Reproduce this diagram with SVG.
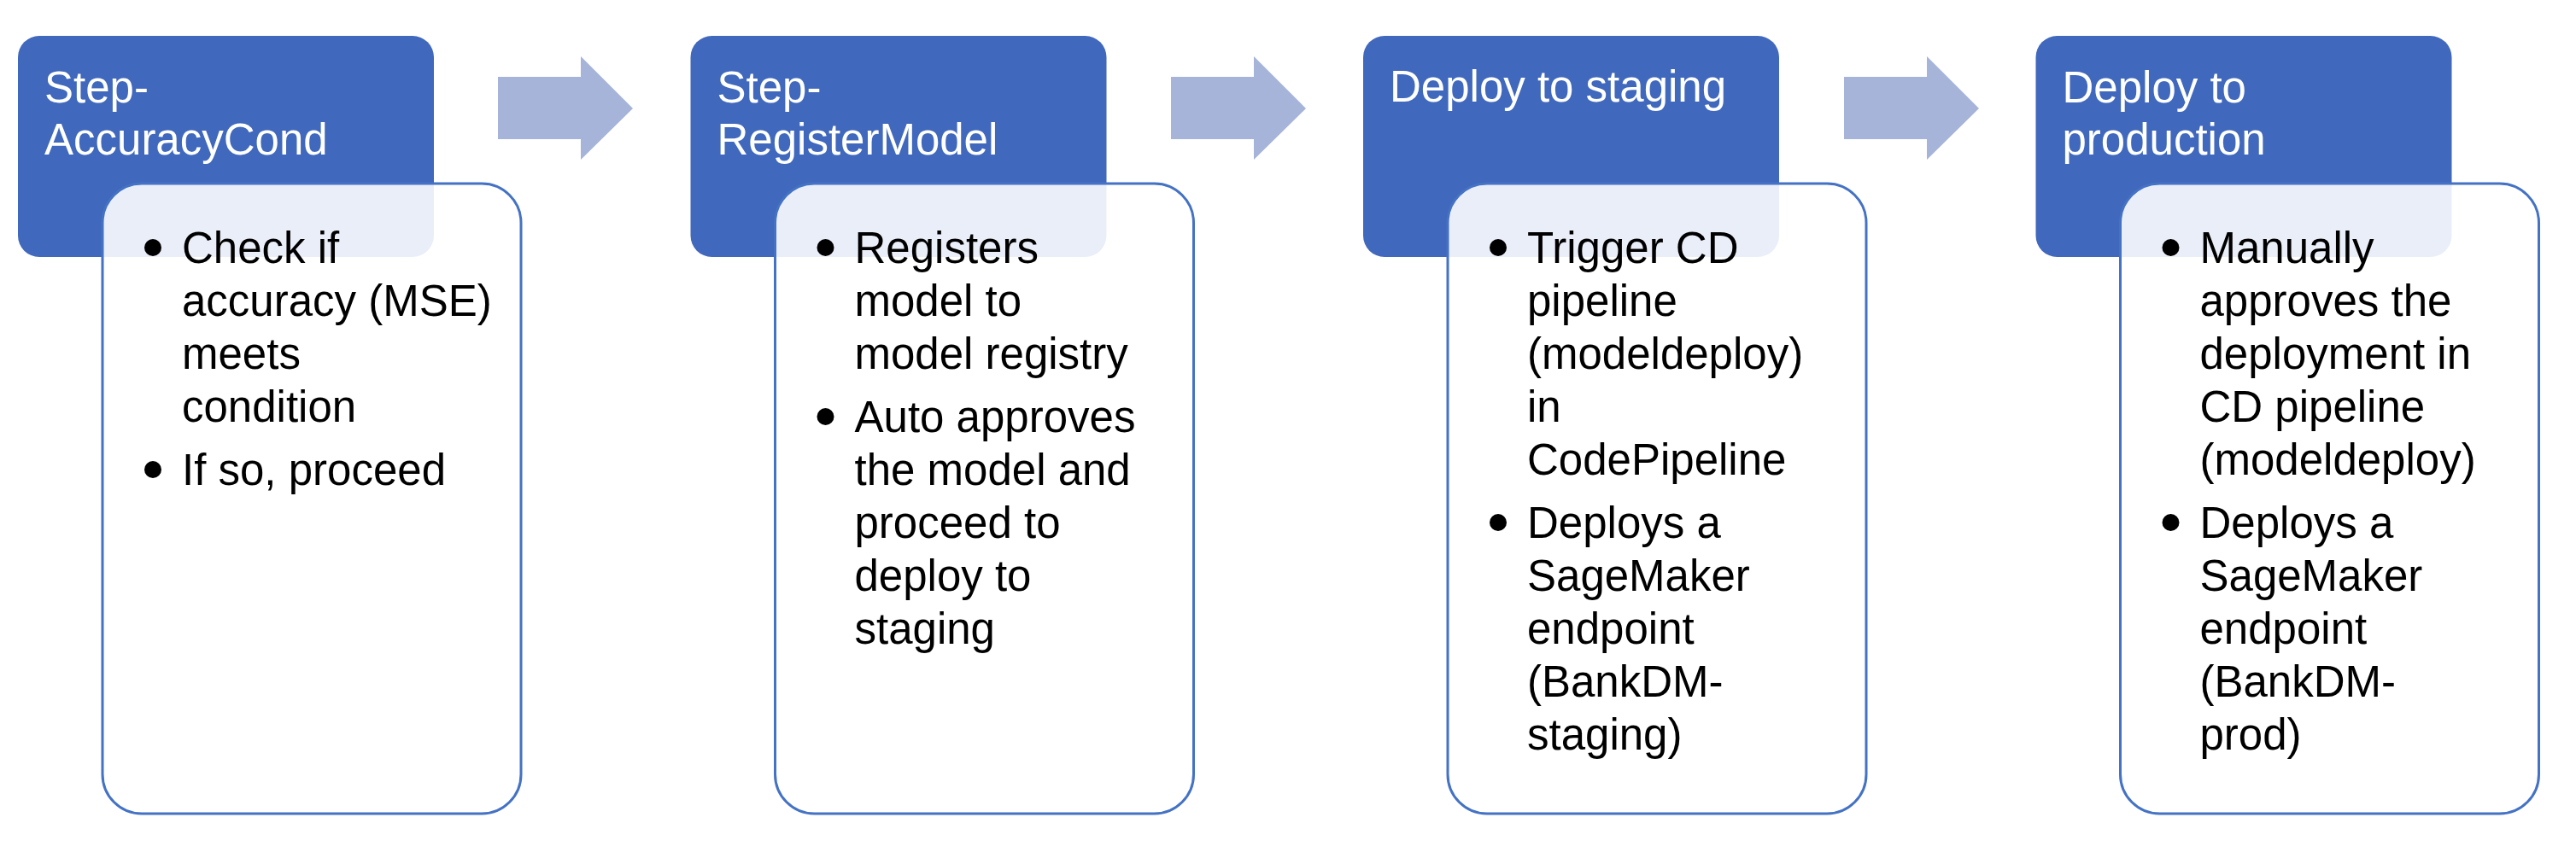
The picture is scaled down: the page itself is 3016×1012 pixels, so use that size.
<svg xmlns="http://www.w3.org/2000/svg" width="3016" height="1012" viewBox="0 0 3016 1012">
  <style>
    .hdr { fill: #4068BC; }
    .body { fill: #FFFFFF; fill-opacity: 0.89; stroke: #4472C4; stroke-width: 3; }
    .arrow { fill: #A6B4DA; }
    .htxt { font-family: "Liberation Sans", Arial, sans-serif; font-size: 51px; fill: #FFFFFF; }
    .btxt { font-family: "Liberation Sans", Arial, sans-serif; font-size: 51px; fill: #000000; }
    .dot { fill: #000000; }
  </style>
  <rect width="3016" height="1012" fill="#FFFFFF"/>

  <g id="connectors">
    <polygon class="arrow" points="583,90 680,90 680,66 741,127 680,187 680,163 583,163"/>
    <polygon class="arrow" points="1371,90 1468,90 1468,66 1529,127 1468,187 1468,163 1371,163"/>
    <polygon class="arrow" points="2159,90 2256,90 2256,66 2317,127 2256,187 2256,163 2159,163"/>
  </g>

  <g id="step-accuracycond" transform="translate(21,0)">
    <rect class="hdr" x="0" y="42" width="487" height="259" rx="25"/>
    <rect class="body" x="99" y="215" width="490" height="738" rx="46"/>
    <text class="htxt" x="31" y="120">Step-</text>
    <text class="htxt" x="31" y="181">AccuracyCond</text>
    <circle class="dot" cx="158" cy="290" r="10"/>
    <circle class="dot" cx="158" cy="550" r="10"/>
    <text class="btxt" x="192" y="308">Check if</text>
    <text class="btxt" x="192" y="370">accuracy (MSE)</text>
    <text class="btxt" x="192" y="432">meets</text>
    <text class="btxt" x="192" y="494">condition</text>
    <text class="btxt" x="192" y="568">If so, proceed</text>
  </g>

  <g id="step-registermodel" transform="translate(808.5,0)">
    <rect class="hdr" x="0" y="42" width="487" height="259" rx="25"/>
    <rect class="body" x="99" y="215" width="490" height="738" rx="46"/>
    <text class="htxt" x="31" y="120">Step-</text>
    <text class="htxt" x="31" y="181">RegisterModel</text>
    <circle class="dot" cx="158" cy="290" r="10"/>
    <circle class="dot" cx="158" cy="488" r="10"/>
    <text class="btxt" x="192" y="308">Registers</text>
    <text class="btxt" x="192" y="370">model to</text>
    <text class="btxt" x="192" y="432">model registry</text>
    <text class="btxt" x="192" y="506">Auto approves</text>
    <text class="btxt" x="192" y="568">the model and</text>
    <text class="btxt" x="192" y="630">proceed to</text>
    <text class="btxt" x="192" y="692">deploy to</text>
    <text class="btxt" x="192" y="754">staging</text>
  </g>

  <g id="deploy-staging" transform="translate(1596,0)">
    <rect class="hdr" x="0" y="42" width="487" height="259" rx="25"/>
    <rect class="body" x="99" y="215" width="490" height="738" rx="46"/>
    <text class="htxt" x="31" y="119">Deploy to staging</text>
    <circle class="dot" cx="158" cy="290" r="10"/>
    <circle class="dot" cx="158" cy="612" r="10"/>
    <text class="btxt" x="192" y="308">Trigger CD</text>
    <text class="btxt" x="192" y="370">pipeline</text>
    <text class="btxt" x="192" y="432">(modeldeploy)</text>
    <text class="btxt" x="192" y="494">in</text>
    <text class="btxt" x="192" y="556">CodePipeline</text>
    <text class="btxt" x="192" y="630">Deploys a</text>
    <text class="btxt" x="192" y="692">SageMaker</text>
    <text class="btxt" x="192" y="754">endpoint</text>
    <text class="btxt" x="192" y="816">(BankDM-</text>
    <text class="btxt" x="192" y="878">staging)</text>
  </g>

  <g id="deploy-production" transform="translate(2383.5,0)">
    <rect class="hdr" x="0" y="42" width="487" height="259" rx="25"/>
    <rect class="body" x="99" y="215" width="490" height="738" rx="46"/>
    <text class="htxt" x="31" y="120">Deploy to</text>
    <text class="htxt" x="31" y="181">production</text>
    <circle class="dot" cx="158" cy="290" r="10"/>
    <circle class="dot" cx="158" cy="612" r="10"/>
    <text class="btxt" x="192" y="308">Manually</text>
    <text class="btxt" x="192" y="370">approves the</text>
    <text class="btxt" x="192" y="432">deployment in</text>
    <text class="btxt" x="192" y="494">CD pipeline</text>
    <text class="btxt" x="192" y="556">(modeldeploy)</text>
    <text class="btxt" x="192" y="630">Deploys a</text>
    <text class="btxt" x="192" y="692">SageMaker</text>
    <text class="btxt" x="192" y="754">endpoint</text>
    <text class="btxt" x="192" y="816">(BankDM-</text>
    <text class="btxt" x="192" y="878">prod)</text>
  </g>
</svg>
